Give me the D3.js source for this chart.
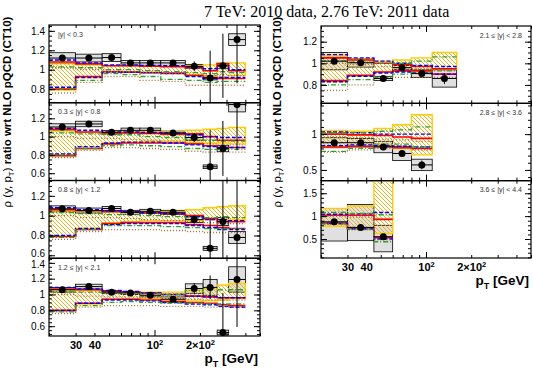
<!DOCTYPE html>
<html>
<head>
<meta charset="utf-8">
<script src="https://cdn.jsdelivr.net/npm/d3@7"></script>
<style>
  body { margin: 0; background: #fff; }
  svg { display: block; font-family: "Liberation Sans", Arial, sans-serif; }
</style>
</head>
<body>
<div id="chart"></div>
<script>
// pT bin edges [GeV]
const ptEdges = [20, 30, 45, 60, 80, 110, 160, 210, 260, 310, 400];

const panelLabels = ['|y| < 0.3', '0.3 \u2264 |y| < 0.8', '0.8 \u2264 |y| < 1.2', '1.2 \u2264 |y| < 2.1',
  '2.1 \u2264 |y| < 2.8', '2.8 \u2264 |y| < 3.6', '3.6 \u2264 |y| < 4.4'];
const yDomains = [[0.66, 1.46], [0.52, 1.37], [0.57, 1.355], [0.476, 1.458],
  [0.63, 1.345], [0.35, 1.43], [0.085, 1.775]];
const yMajor = [0.2, 0.2, 0.2, 0.2, 0.2, 0.5, 0.5];
const yMinor = [0.05, 0.05, 0.05, 0.05, 0.05, 0.1, 0.1];

const xMajor = [100];
const xMinor = [20, 30, 40, 50, 60, 70, 80, 90, 200, 300, 400, 500];
const xLabelVals = [30, 40, 100, 200];
const xLabelBase = ['30', '40', '10', '2\u00d710'];
const xLabelSup = ['', '', '2', '2'];

// data ratio, stat and syst uncertainties
const dataVal = [
  [1.12, 1.12, 1.125, 1.07, 1.07, 1.07, 1.035, 0.915, 1.04, 1.31],
  [1.105, 1.138, 1.047, 1.068, 1.068, 1.04, 0.99, 0.67, 0.87, 1.35],
  [1.069, 1.052, 1.072, 1.034, 1.044, 1.034, 0.96, 0.67, 0.94, 0.78],
  [1.06, 1.10, 1.03, 1.02, 0.99, 0.94, 1.075, 1.09, 0.52, 1.19],
  [1.02, 1.005, 0.86, 0.96, 0.905, 0.86],
  [0.88, 0.88, 0.82, 0.73, 0.57],
  [0.876, 0.754, 0.55]
];
const statErr = [
  [0.006, 0.006, 0.006, 0.008, 0.01, 0.012, 0.05, 0.28, 0.33, 0.45],
  [0.006, 0.006, 0.006, 0.01, 0.01, 0.012, 0.05, 0.4, 0.3, 0.5],
  [0.006, 0.006, 0.006, 0.01, 0.01, 0.012, 0.04, 0.3, 0.45, 0.6],
  [0.006, 0.006, 0.006, 0.01, 0.012, 0.02, 0.07, 0.15, 0.5, 0.6],
  [0.006, 0.01, 0.01, 0.012, 0.015, 0.05],
  [0.01, 0.01, 0.02, 0.03, 0.06],
  [0.02, 0.03, 0.05]
];
const sysUp = [
  [0.055, 0.04, 0.04, 0.025, 0.025, 0.025, 0.02, 0.02, 0.03, 0.06],
  [0.035, 0.03, 0.02, 0.025, 0.025, 0.02, 0.03, 0.02, 0.035, 0.08],
  [0.03, 0.025, 0.02, 0.02, 0.02, 0.02, 0.03, 0.02, 0.04, 0.06],
  [0.03, 0.03, 0.02, 0.02, 0.02, 0.03, 0.06, 0.1, 0.03, 0.16],
  [0.08, 0.04, 0.02, 0.02, 0.035, 0.08],
  [0.07, 0.06, 0.08, 0.1, 0.08],
  [0.29, 0.5, 0.25]
];
const sysDn = [
  [0.055, 0.04, 0.04, 0.025, 0.025, 0.025, 0.02, 0.02, 0.03, 0.06],
  [0.035, 0.03, 0.02, 0.025, 0.025, 0.02, 0.03, 0.02, 0.035, 0.08],
  [0.03, 0.025, 0.02, 0.02, 0.02, 0.02, 0.03, 0.02, 0.04, 0.06],
  [0.03, 0.03, 0.02, 0.02, 0.02, 0.03, 0.06, 0.1, 0.03, 0.16],
  [0.08, 0.04, 0.02, 0.02, 0.035, 0.08],
  [0.07, 0.06, 0.08, 0.1, 0.08],
  [0.42, 0.29, 0.33]
];

// CT10 uncertainty band (hatched yellow)
const bandLo = [
  [0.79, 0.92, 0.98, 0.98, 0.97, 0.96, 0.95, 0.93, 0.92, 0.94],
  [0.79, 0.87, 0.93, 0.94, 0.95, 0.95, 0.94, 0.93, 0.93, 0.92],
  [0.79, 0.87, 0.93, 0.94, 0.95, 0.95, 0.95, 0.96, 0.96, 0.96],
  [0.79, 0.88, 0.94, 0.95, 0.95, 0.93, 0.92, 0.92, 0.93, 0.95],
  [0.83, 0.88, 0.92, 0.93, 0.92, 0.95],
  [0.82, 0.83, 0.85, 0.80, 0.71],
  [0.78, 0.73, 0.62]
];
const bandHi = [
  [1.06, 1.05, 1.04, 1.04, 1.04, 1.04, 1.04, 1.05, 1.07, 1.07],
  [1.06, 1.05, 1.05, 1.05, 1.05, 1.05, 1.07, 1.08, 1.09, 1.10],
  [1.05, 1.05, 1.04, 1.04, 1.04, 1.04, 1.06, 1.08, 1.09, 1.10],
  [1.06, 1.05, 1.04, 1.03, 1.03, 1.03, 1.05, 1.07, 1.12, 1.14],
  [1.07, 1.04, 1.02, 1.03, 1.05, 1.10],
  [1.05, 1.04, 1.08, 1.13, 1.27],
  [1.17, 1.22, 2.0]
];

// other PDF sets, upper / lower edges
const redHi = [
  [1.08, 1.06, 1.04, 1.04, 1.035, 1.03, 1.02, 0.99, 1.06, 0.99],
  [1.08, 1.05, 1.04, 1.04, 1.035, 1.03, 1.03, 1.0, 0.96, 0.96],
  [1.06, 1.05, 1.04, 1.04, 1.03, 1.02, 1.0, 0.97, 0.94, 0.94],
  [1.07, 1.06, 1.04, 1.03, 1.02, 1.0, 0.98, 0.97, 0.96, 0.96],
  [1.05, 1.03, 1.0, 0.99, 0.97, 0.95],
  [1.0, 0.99, 0.98, 0.96, 0.94],
  [1.02, 1.02, 0.93]
];
const redLo = [
  [0.80, 0.93, 0.98, 0.975, 0.97, 0.965, 0.94, 0.92, 0.91, 0.91],
  [0.79, 0.87, 0.92, 0.93, 0.93, 0.93, 0.92, 0.90, 0.88, 0.88],
  [0.79, 0.86, 0.92, 0.93, 0.93, 0.93, 0.91, 0.90, 0.88, 0.87],
  [0.80, 0.89, 0.94, 0.94, 0.93, 0.91, 0.90, 0.89, 0.87, 0.86],
  [0.84, 0.89, 0.92, 0.93, 0.93, 0.90],
  [0.82, 0.83, 0.83, 0.81, 0.80],
  [0.85, 0.74, 0.53]
];
const blueHi = [
  [1.10, 1.07, 1.05, 1.05, 1.045, 1.04, 1.03, 1.01, 1.04, 1.0],
  [1.09, 1.07, 1.05, 1.05, 1.045, 1.04, 1.02, 1.0, 0.99, 0.99],
  [1.08, 1.06, 1.05, 1.04, 1.03, 1.02, 0.99, 0.96, 0.96, 0.95],
  [1.09, 1.07, 1.05, 1.04, 1.02, 1.0, 0.98, 0.97, 0.96, 0.96],
  [1.08, 1.05, 1.02, 1.0, 0.98, 0.97],
  [1.03, 1.02, 1.0, 1.0, 1.0],
  [1.04, 1.05, 1.08]
];
const blueLo = [
  [0.82, 0.92, 0.975, 0.975, 0.97, 0.96, 0.93, 0.91, 0.92, 0.92],
  [0.81, 0.89, 0.93, 0.94, 0.94, 0.93, 0.91, 0.89, 0.88, 0.88],
  [0.80, 0.87, 0.91, 0.92, 0.92, 0.92, 0.90, 0.88, 0.86, 0.86],
  [0.80, 0.89, 0.93, 0.93, 0.92, 0.90, 0.88, 0.87, 0.85, 0.84],
  [0.83, 0.88, 0.91, 0.92, 0.91, 0.90],
  [0.84, 0.85, 0.84, 0.83, 0.82],
  [0.84, 0.72, 0.5]
];
const greenHi = [
  [1.03, 1.02, 1.0, 1.0, 0.99, 0.98, 0.97, 0.96, 0.98, 0.97],
  [1.04, 1.03, 1.02, 1.02, 1.0, 0.99, 0.97, 0.96, 0.95, 0.95],
  [1.03, 1.02, 1.01, 1.01, 1.0, 0.99, 0.98, 0.98, 0.99, 0.98],
  [1.04, 1.03, 1.02, 1.02, 1.01, 1.0, 1.05, 1.08, 1.06, 1.06],
  [1.02, 1.01, 1.0, 1.0, 1.02, 1.06],
  [1.02, 1.02, 1.04, 1.06, 1.1],
  [1.08, 1.06, 1.03]
];
const greenLo = [
  [0.80, 0.89, 0.96, 0.95, 0.93, 0.90, 0.89, 0.87, 0.88, 0.88],
  [0.80, 0.87, 0.90, 0.91, 0.90, 0.89, 0.87, 0.86, 0.86, 0.86],
  [0.78, 0.86, 0.90, 0.90, 0.90, 0.89, 0.88, 0.87, 0.87, 0.87],
  [0.78, 0.86, 0.90, 0.91, 0.90, 0.89, 0.89, 0.88, 0.88, 0.88],
  [0.80, 0.85, 0.87, 0.9, 0.92, 0.93],
  [0.76, 0.8, 0.86, 0.86, 0.82],
  [0.83, 0.72, 0.44]
];
const brownHi = [
  [1.02, 1.0, 0.98, 0.98, 0.97, 0.96, 0.95, 0.94, 0.95, 0.94],
  [1.0, 0.98, 0.98, 0.97, 0.96, 0.95, 0.93, 0.92, 0.91, 0.91],
  [1.0, 0.98, 0.98, 0.97, 0.96, 0.95, 0.94, 0.93, 0.92, 0.92],
  [1.0, 0.98, 0.97, 0.97, 0.96, 0.95, 0.94, 0.93, 0.93, 0.93],
  [1.0, 0.99, 0.97, 0.96, 0.95, 0.94],
  [0.96, 0.95, 0.93, 0.92, 0.9],
  [1.0, 0.98, 0.95]
];
const brownLo = [
  [0.76, 0.87, 0.93, 0.93, 0.89, 0.88, 0.84, 0.84, 0.84, 0.84],
  [0.77, 0.85, 0.88, 0.88, 0.87, 0.86, 0.84, 0.83, 0.83, 0.83],
  [0.76, 0.84, 0.86, 0.86, 0.86, 0.85, 0.84, 0.83, 0.83, 0.83],
  [0.76, 0.84, 0.86, 0.86, 0.86, 0.85, 0.85, 0.84, 0.84, 0.84],
  [0.75, 0.80, 0.86, 0.87, 0.87, 0.87],
  [0.75, 0.78, 0.8, 0.8, 0.78],
  [0.82, 0.70, 0.48]
];

const W = 533, H = 370;
const cols = [{ x0: 49, x1: 260, top: 25, bottom: 336, rows: 4 }, { x0: 321, x1: 531, top: 26, bottom: 258, rows: 3 }];
const panelCol = [0, 0, 0, 0, 1, 1, 1];
const panelRow = [0, 1, 2, 3, 0, 1, 2];

const lines = [
  { hi: redHi, lo: redLo, color: '#ff0000', width: 1.6, dash: null },
  { hi: blueHi, lo: blueLo, color: '#0000ff', width: 1.4, dash: '4,2' },
  { hi: greenHi, lo: greenLo, color: '#2ca02c', width: 1.3, dash: '5,2,1,2' },
  { hi: brownHi, lo: brownLo, color: '#b06a2c', width: 1.3, dash: '1,2' }
];

const svg = d3.select('#chart').append('svg').attr('width', W).attr('height', H);
const defs = svg.append('defs');

const hatch = defs.append('pattern')
  .attr('id', 'hatch').attr('patternUnits', 'userSpaceOnUse')
  .attr('width', 4).attr('height', 4);
hatch.append('path')
  .attr('d', 'M-1,-1 L5,5 M3,-1 L5,1 M-1,3 L1,5')
  .attr('stroke', '#e8ad00').attr('stroke-width', 0.9);

const tickVals = (dom, s) => d3.range(Math.ceil(dom[0] / s - 1e-6), Math.floor(dom[1] / s + 1e-6) + 1)
  .map(k => +(k * s).toFixed(3));

// expand per-bin values into step points
const steps = (lo, hi, n) => {
  const pts = [];
  for (let i = 0; i < n; i++) {
    pts.push({ x: ptEdges[i], lo: lo[i], hi: hi[i] });
    pts.push({ x: ptEdges[i + 1], lo: lo[i], hi: hi[i] });
  }
  return pts;
};

panelLabels.forEach((label, p) => {
  const c = cols[panelCol[p]];
  const h = (c.bottom - c.top) / c.rows;
  const top = c.top + panelRow[p] * h;
  const bottom = top + h;
  const n = dataVal[p].length;

  const x = d3.scaleLog().domain([20, 500]).range([c.x0, c.x1]);
  const y = d3.scaleLinear().domain(yDomains[p]).range([bottom, top]);

  defs.append('clipPath').attr('id', `clip${p}`)
    .append('rect').attr('x', c.x0).attr('y', top).attr('width', c.x1 - c.x0).attr('height', h);

  const g = svg.append('g').attr('clip-path', `url(#clip${p})`);

  // systematic boxes
  g.selectAll('rect.sys')
    .data(dataVal[p])
    .join('rect')
    .attr('x', (d, i) => x(ptEdges[i]))
    .attr('width', (d, i) => x(ptEdges[i + 1]) - x(ptEdges[i]))
    .attr('y', (d, i) => y(d + sysUp[p][i]))
    .attr('height', (d, i) => y(d - sysDn[p][i]) - y(d + sysUp[p][i]))
    .attr('fill', '#e0e0e0')
    .attr('stroke', '#000')
    .attr('stroke-width', 0.8);

  // CT10 band
  const bandPts = steps(bandLo[p], bandHi[p], n);
  g.append('path')
    .attr('d', d3.area().x(d => x(d.x)).y0(d => y(d.lo)).y1(d => y(d.hi))(bandPts))
    .attr('fill', 'url(#hatch)')
    .attr('stroke', '#ffcc00')
    .attr('stroke-width', 1.4);

  // PDF step lines
  lines.forEach(s => {
    const pts = steps(s.lo[p], s.hi[p], n);
    ['hi', 'lo'].forEach(k => {
      g.append('path')
        .attr('d', d3.line().x(d => x(d.x)).y(d => y(d[k]))(pts))
        .attr('fill', 'none')
        .attr('stroke', s.color)
        .attr('stroke-width', s.width)
        .attr('stroke-dasharray', s.dash);
    });
  });

  // data points with errors
  const pts = g.append('g');
  pts.selectAll('line.xerr')
    .data(dataVal[p])
    .join('line')
    .attr('x1', (d, i) => x(ptEdges[i])).attr('x2', (d, i) => x(ptEdges[i + 1]))
    .attr('y1', d => y(d)).attr('y2', d => y(d))
    .attr('stroke', '#000').attr('stroke-width', 1);
  pts.selectAll('line.yerr')
    .data(dataVal[p])
    .join('line')
    .attr('x1', (d, i) => x(Math.sqrt(ptEdges[i] * ptEdges[i + 1])))
    .attr('x2', (d, i) => x(Math.sqrt(ptEdges[i] * ptEdges[i + 1])))
    .attr('y1', (d, i) => y(d + statErr[p][i])).attr('y2', (d, i) => y(d - statErr[p][i]))
    .attr('stroke', '#000').attr('stroke-width', 1);
  pts.selectAll('circle')
    .data(dataVal[p])
    .join('circle')
    .attr('cx', (d, i) => x(Math.sqrt(ptEdges[i] * ptEdges[i + 1])))
    .attr('cy', d => y(d))
    .attr('r', 3.5)
    .attr('fill', '#000');

  // axes: ticks point inward on all sides
  const dom = yDomains[p];
  const ax = svg.append('g');
  ax.append('g').attr('transform', `translate(${c.x0},0)`)
    .call(d3.axisLeft(y).tickValues(tickVals(dom, yMajor[p])).tickSize(-6).tickPadding(4).tickFormat(d3.format('~g')))
    .call(a => a.select('.domain').remove())
    .call(a => a.selectAll('text')
      .style('font-family', '"Liberation Sans", Arial, sans-serif').style('font-size', '10px')
      // keep labels that sit on a panel edge from running into the next panel's
      .attr('y', d => (y(d) - top < 5 ? 1.5 : (bottom - y(d) < 5 ? -1.5 : 0))));
  ax.append('g').attr('transform', `translate(${c.x0},0)`)
    .call(d3.axisLeft(y).tickValues(tickVals(dom, yMinor[p])).tickSize(-3).tickFormat(''))
    .call(a => a.select('.domain').remove());
  ax.append('g').attr('transform', `translate(${c.x1},0)`)
    .call(d3.axisRight(y).tickValues(tickVals(dom, yMajor[p])).tickSize(-6).tickFormat(''))
    .call(a => a.select('.domain').remove());
  ax.append('g').attr('transform', `translate(${c.x1},0)`)
    .call(d3.axisRight(y).tickValues(tickVals(dom, yMinor[p])).tickSize(-3).tickFormat(''))
    .call(a => a.select('.domain').remove());
  [[d3.axisBottom, bottom], [d3.axisTop, top]].forEach(([axisFn, yy]) => {
    ax.append('g').attr('transform', `translate(0,${yy})`)
      .call(axisFn(x).tickValues(xMajor).tickSize(-6).tickFormat(''))
      .call(a => a.select('.domain').remove());
    ax.append('g').attr('transform', `translate(0,${yy})`)
      .call(axisFn(x).tickValues(xMinor).tickSize(-3).tickFormat(''))
      .call(a => a.select('.domain').remove());
  });

  // frame
  svg.append('rect')
    .attr('x', c.x0).attr('y', top).attr('width', c.x1 - c.x0).attr('height', h)
    .attr('fill', 'none').attr('stroke', '#000').attr('stroke-width', 1.2);

  // rapidity label
  const left = panelCol[p] === 0;
  svg.append('text')
    .attr('x', left ? c.x0 + 9 : c.x1 - 9)
    .attr('y', top + 11.5)
    .attr('text-anchor', left ? 'start' : 'end')
    .style('font-size', '7px')
    .attr('fill', '#333')
    .text(label);

  // x labels for the bottom panel of each column
  if (panelRow[p] === c.rows - 1) {
    svg.append('g').attr('transform', `translate(0,${bottom})`)
      .call(d3.axisBottom(x).tickValues(xLabelVals).tickSize(0).tickPadding(5).tickFormat((d, i) => xLabelBase[i]))
      .call(a => a.select('.domain').remove())
      .call(a => a.selectAll('text')
        .style('font-family', '"Liberation Sans", Arial, sans-serif')
        .style('font-size', '11px').style('font-weight', 'bold')
        .each(function (d, i) {
          if (xLabelSup[i]) {
            d3.select(this).append('tspan').attr('dy', '-0.45em').style('font-size', '7.5px').text(xLabelSup[i]);
          }
        }));

    const t = svg.append('text')
      .attr('x', c.x1 - 2).attr('y', bottom + 27)
      .attr('text-anchor', 'end')
      .style('font-size', '13.5px').style('font-weight', 'bold');
    t.append('tspan').text('p');
    t.append('tspan').attr('dy', 4).style('font-size', '9px').text('T');
    t.append('tspan').attr('dy', -4).text(' [GeV]');
  }
});

// y titles
[{ x: 11, y: 112 }, { x: 281, y: 112 }].forEach(pos => {
  const t = svg.append('text')
    .attr('transform', `translate(${pos.x},${pos.y}) rotate(-90)`)
    .attr('text-anchor', 'middle')
    .style('font-size', '11.5px');
  t.append('tspan').text('\u03c1 (y, p');
  t.append('tspan').attr('dy', 2.5).style('font-size', '8px').text('T');
  t.append('tspan').attr('dy', -2.5).text(')');
  t.append('tspan').style('font-weight', 'bold').text(' ratio wrt NLO pQCD (CT10)');
});

svg.append('text')
  .attr('x', 204).attr('y', 17)
  .style('font-family', '"Liberation Serif", "Times New Roman", serif')
  .style('font-size', '16px')
  .text('7 TeV: 2010 data, 2.76 TeV: 2011 data');
</script>
</body>
</html>
